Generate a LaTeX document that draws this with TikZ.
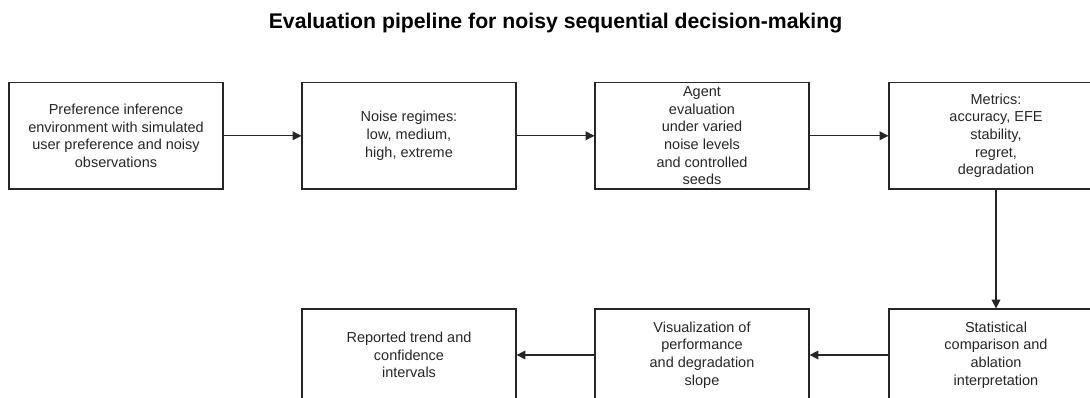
\documentclass[tikz,border=0pt]{standalone}
\usepackage{fontspec}
\setmainfont{Liberation Sans}
\usetikzlibrary{arrows.meta}

\begin{document}
\begin{tikzpicture}[x=0.025cm, y=-0.025cm,
        b/.style={draw=black!85, line width=0.8pt, align=center, inner sep=0pt, text=black!85,
          font=\fontsize{10.3}{12.5}\selectfont, minimum width=5.35cm, minimum height=2.66cm},
        lo/.style={minimum height=2.3cm},
        arr/.style={-{Triangle[length=2.2mm, width=2.2mm]}, line width=0.8pt, draw=black!85}]
      \path[use as bounding box, clip] (0,0) rectangle (1090,398);
      \node[anchor=base, font=\fontsize{15.1}{16}\selectfont\bfseries] (title) at (555.5,28.3)
        {Evaluation pipeline for noisy sequential decision-making};
      % top row
      \node[b] (env) at (116,135.8) {Preference inference\\environment with simulated\\user preference and noisy\\observations};
      \node[b] (noise) at (409,135.8) {Noise regimes:\\low, medium,\\high, extreme};
      \node[b] (agent) at (702,135.8) {Agent\\evaluation\\under varied\\noise levels\\and controlled\\seeds};
      \node[b] (metrics) at (996,135.8) {Metrics:\\accuracy, EFE\\stability,\\regret,\\degradation};
      % bottom row, right to left
      \node[b, lo] (stats) at (996,355) {Statistical\\comparison and\\ablation\\interpretation};
      \node[b, lo] (vis) at (702,355) {Visualization of\\performance\\and degradation\\slope};
      \node[b, lo] (report) at (409,355) {Reported trend and\\confidence\\intervals};
      \draw[arr] (env) -- (noise); \draw[arr] (noise) -- (agent);
      \draw[arr] (agent) -- (metrics);
      \draw[arr] (metrics) -- (stats);
      \draw[arr] (stats) -- (vis); \draw[arr] (vis) -- (report);
      \end{tikzpicture}
\end{document}
